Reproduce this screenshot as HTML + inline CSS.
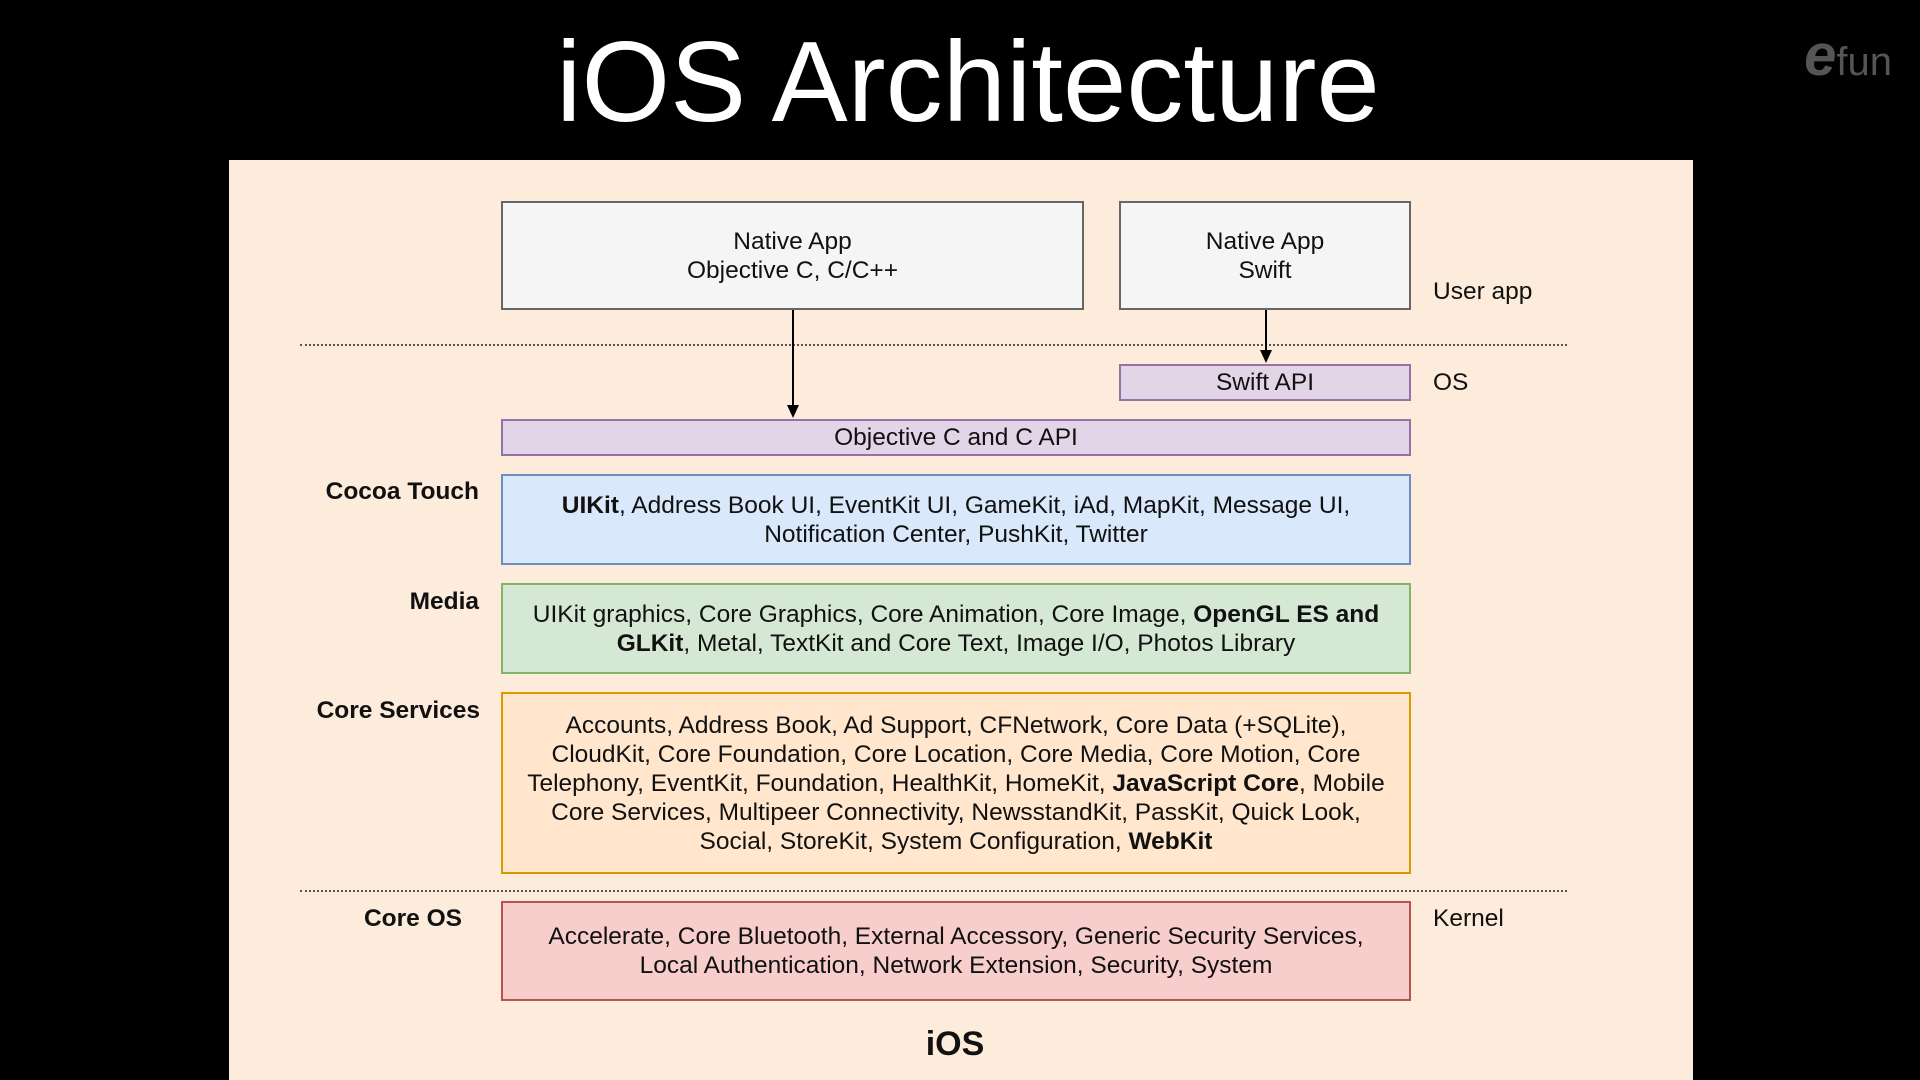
<!DOCTYPE html>
<html><head><meta charset="utf-8"><style>
body{margin:0;width:1920px;height:1080px;background:#000;position:relative;overflow:hidden;font-family:"Liberation Sans",Arial,sans-serif;}
.a{position:absolute;}
.title{left:0;width:1936px;top:18px;text-align:center;color:#fff;font-size:114px;line-height:130px;}
.panel{left:229px;top:160px;width:1464px;height:920px;background:#fdebdb;}
.box{position:absolute;box-sizing:border-box;border:2px solid;display:flex;align-items:center;justify-content:center;text-align:center;font-size:24.5px;line-height:29px;color:#111;}
.g{background:#f5f5f5;border-color:#666;}
.p{background:#e1d5e7;border-color:#9673a6;}
.b{background:#dae8fc;border-color:#6c8ebf;}
.gr{background:#d5e8d4;border-color:#82b366;}
.o{background:#ffe6cc;border-color:#d79b00;}
.r{background:#f8cecc;border-color:#b85450;}
.lbl{position:absolute;font-size:24.5px;color:#111;line-height:29px;}
.lb{font-weight:bold;text-align:right;width:300px;}
.dot{position:absolute;left:300px;width:1267px;border-top:2px dotted #555;height:0;}
</style></head><body>
<div class="a title">iOS Architecture</div>
<div class="a" style="right:28px;top:22px;color:#555;font-size:40px;font-family:'Liberation Sans',sans-serif;"><span style="font-size:58px;font-weight:bold;font-style:italic">e</span>fun</div>
<div class="a panel"></div>
<div class="box g" style="left:501px;top:201px;width:583px;height:109px;">Native App<br>Objective C, C/C++</div>
<div class="box g" style="left:1119px;top:201px;width:292px;height:109px;">Native App<br>Swift</div>
<div class="lbl" style="left:1433px;top:277px;">User app</div>
<div class="dot" style="top:344px;"></div>
<div class="box p" style="left:1119px;top:364px;width:292px;height:37px;">Swift API</div>
<div class="lbl" style="left:1433px;top:368px;">OS</div>
<div class="box p" style="left:501px;top:419px;width:910px;height:37px;">Objective C and C API</div>
<svg class="a" style="left:0;top:0" width="1920" height="1080">
<line x1="793" y1="310" x2="793" y2="408" stroke="#000" stroke-width="2"/>
<polygon points="787,405 799,405 793,418" fill="#000"/>
<line x1="1266" y1="310" x2="1266" y2="353" stroke="#000" stroke-width="2"/>
<polygon points="1260,350 1272,350 1266,363" fill="#000"/>
</svg>
<div class="lbl lb" style="left:179px;top:477px;">Cocoa Touch</div>
<div class="box b" style="left:501px;top:474px;width:910px;height:91px;"><span><b>UIKit</b>, Address Book UI, EventKit UI, GameKit, iAd, MapKit, Message UI,<br>Notification Center, PushKit, Twitter</span></div>
<div class="lbl lb" style="left:179px;top:587px;">Media</div>
<div class="box gr" style="left:501px;top:583px;width:910px;height:91px;"><span>UIKit graphics, Core Graphics, Core Animation, Core Image, <b>OpenGL ES and<br>GLKit</b>, Metal, TextKit and Core Text, Image I/O, Photos Library</span></div>
<div class="lbl lb" style="left:180px;top:696px;">Core Services</div>
<div class="box o" style="left:501px;top:692px;width:910px;height:182px;"><span>Accounts, Address Book, Ad Support, CFNetwork, Core Data (+SQLite),<br>CloudKit, Core Foundation, Core Location, Core Media, Core Motion, Core<br>Telephony, EventKit, Foundation, HealthKit, HomeKit, <b>JavaScript Core</b>, Mobile<br>Core Services, Multipeer Connectivity, NewsstandKit, PassKit, Quick Look,<br>Social, StoreKit, System Configuration, <b>WebKit</b></span></div>
<div class="dot" style="top:890px;"></div>
<div class="lbl lb" style="left:162px;top:904px;">Core OS</div>
<div class="lbl" style="left:1433px;top:904px;">Kernel</div>
<div class="box r" style="left:501px;top:901px;width:910px;height:100px;"><span>Accelerate, Core Bluetooth, External Accessory, Generic Security Services,<br>Local Authentication, Network Extension, Security, System</span></div>
<div class="lbl" style="left:855px;width:200px;text-align:center;top:1024px;font-weight:bold;font-size:34px;line-height:40px;">iOS</div>
</body></html>
